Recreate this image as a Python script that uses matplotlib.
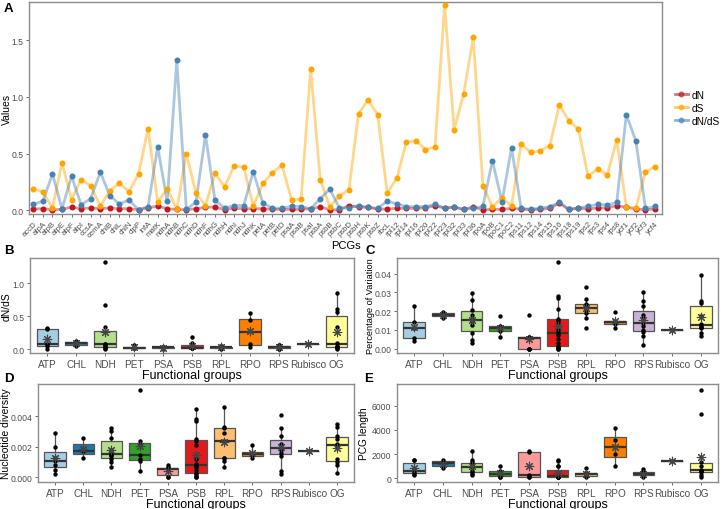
import numpy as np
import matplotlib
matplotlib.use("Agg")
import matplotlib.pyplot as plt
from matplotlib.lines import Line2D

plt.rcParams["font.family"] = ["Liberation Sans", "DejaVu Sans"]

# ---------------- data ----------------
genes = ["accD", "atpA", "atpB", "atpE", "atpF", "atpI", "ccsA", "cemA", "chlB", "chlL",
         "chlN", "clpP", "infA", "matK", "ndhA", "ndhB", "ndhC", "ndhD", "ndhF", "ndhG",
         "ndhH", "ndhI", "ndhJ", "ndhK", "petA", "petB", "petD", "psaA", "psaB", "psaI",
         "psbA", "psbB", "psbC", "psbD", "psbH", "psbK", "psbZ", "rbcL", "rpl12", "rpl14",
         "rpl16", "rpl20", "rpl22", "rpl23", "rpl32", "rpl33", "rpl36", "rpoA", "rpoB", "rpoC1",
         "rpoC2", "rps11", "rps12", "rps14", "rps15", "rps16", "rps18", "rps19", "rps2", "rps3",
         "rps4", "rps8", "ycf1", "ycf2", "ycf3", "ycf4"]

dn = [0.009, 0.012, 0.003, 0.006, 0.027, 0.012, 0.018, 0.012, 0.018, 0.012,
      0.012, 0.003, 0.020, 0.035, 0.012, 0.005, 0.003, 0.012, 0.024, 0.027,
      0.003, 0.015, 0.012, 0.012, 0.012, 0.006, 0.006, 0.006, 0.006, 0.012,
      0.027, 0.003, 0.003, 0.040, 0.027, 0.024, 0.009, 0.009, 0.015, 0.015,
      0.015, 0.020, 0.038, 0.018, 0.024, 0.006, 0.027, 0.003, 0.006, 0.006,
      0.015, 0.009, 0.003, 0.006, 0.015, 0.060, 0.006, 0.015, 0.009, 0.020,
      0.018, 0.040, 0.024, 0.009, 0.003, 0.009]

ds = [0.19, 0.16, 0.015, 0.42, 0.09, 0.27, 0.215, 0.035, 0.17, 0.24,
      0.16, 0.32, 0.72, 0.07, 0.19, 0.005, 0.50, 0.15, 0.04, 0.325,
      0.205, 0.39, 0.38, 0.035, 0.235, 0.33, 0.40, 0.09, 0.095, 1.25,
      0.27, 0.03, 0.125, 0.18, 0.85, 0.975, 0.845, 0.15, 0.28, 0.60,
      0.615, 0.535, 0.56, 1.815, 0.71, 1.03, 1.53, 0.215, 0.03, 0.11,
      0.035, 0.585, 0.51, 0.525, 0.57, 0.93, 0.79, 0.715, 0.30, 0.365,
      0.31, 0.62, 0.03, 0.02, 0.335, 0.385]

dnds = [0.053, 0.077, 0.32, 0.01, 0.30, 0.047, 0.10, 0.336, 0.127, 0.053,
        0.09, 0.003, 0.03, 0.56, 0.077, 1.325, 0.005, 0.07, 0.665, 0.085,
        0.018, 0.04, 0.04, 0.34, 0.06, 0.018, 0.015, 0.035, 0.03, 0.012,
        0.10, 0.185, 0.018, 0.018, 0.04, 0.024, 0.015, 0.077, 0.056, 0.03,
        0.03, 0.03, 0.05, 0.018, 0.027, 0.006, 0.015, 0.032, 0.437, 0.074,
        0.55, 0.015, 0.006, 0.018, 0.03, 0.068, 0.006, 0.02, 0.032, 0.05,
        0.044, 0.068, 0.844, 0.61, 0.015, 0.032]

groups = ["ATP", "CHL", "NDH", "PET", "PSA", "PSB", "RPL", "RPO", "RPS", "Rubisco", "OG"]
group_colors = ["#A6CEE3", "#1F78B4", "#B2DF8A", "#33A02C", "#FB9A99", "#E31A1C",
                "#FDBF6F", "#FF7F00", "#CAB2D6", "#6A3D9A", "#FFFF99"]
prefix_to_group = {"atp": "ATP", "chl": "CHL", "ndh": "NDH", "pet": "PET", "psa": "PSA",
                   "psb": "PSB", "rpl": "RPL", "rpo": "RPO", "rps": "RPS", "rbc": "Rubisco"}

# percentage of variation (panel C)
pov = {
    "ATP": [0.004, 0.0058, 0.0112, 0.0142, 0.0228],
    "CHL": [0.0165, 0.018, 0.0198],
    "NDH": [0.003, 0.0045, 0.0085, 0.0125, 0.015, 0.0156, 0.018, 0.0205, 0.026, 0.0295],
    "PET": [0.006, 0.0092, 0.0105, 0.011, 0.0122, 0.0175],
    "PSA": [0.0, 0.0, 0.0, 0.0057, 0.006, 0.0063, 0.018],
    "PSB": [0.0, 0.0, 0.0005, 0.001, 0.0015, 0.003, 0.005, 0.0075, 0.0085, 0.01, 0.013,
            0.0145, 0.016, 0.021, 0.027, 0.028, 0.046],
    "RPL": [0.011, 0.0165, 0.019, 0.0205, 0.0215, 0.022, 0.0237, 0.0262, 0.033],
    "RPO": [0.011, 0.013, 0.0143, 0.0148, 0.0195],
    "RPS": [0.002, 0.0065, 0.0088, 0.0102, 0.012, 0.0135, 0.0165, 0.018, 0.0225, 0.0255, 0.030],
    "Rubisco": [0.0098],
    "OG": [0.007, 0.0085, 0.011, 0.0115, 0.012, 0.013, 0.0175, 0.0245, 0.0255, 0.039],
}

# nucleotide diversity (panel D)
nuc_div = {
    "ATP": [0.0002, 0.0005, 0.0008, 0.00105, 0.0013, 0.002, 0.0029],
    "CHL": [0.0013, 0.0017, 0.0026],
    "NDH": [0.0007, 0.001, 0.0012, 0.0014, 0.00145, 0.00155, 0.0018, 0.0026, 0.003, 0.0032],
    "PET": [0.0004, 0.0011, 0.0012, 0.00145, 0.0021, 0.0024, 0.0057],
    "PSA": [0.0, 0.0, 0.0005, 0.0006, 0.00065, 0.0008],
    "PSB": [0.0, 0.0, 0.0001, 0.0002, 0.0003, 0.0005, 0.0007, 0.00075, 0.0009, 0.0012,
            0.0021, 0.0024, 0.0025, 0.0037, 0.0038, 0.0045],
    "RPL": [0.0007, 0.0011, 0.00125, 0.0013, 0.00237, 0.0029, 0.00325, 0.0033, 0.0046],
    "RPO": [0.0013, 0.00145, 0.00155, 0.0021],
    "RPS": [0.0002, 0.0004, 0.0014, 0.0016, 0.0018, 0.0019, 0.002, 0.0022, 0.0027, 0.0032, 0.0041],
    "Rubisco": [0.00172],
    "OG": [0.0003, 0.0008, 0.001, 0.0012, 0.002, 0.0022, 0.0025, 0.0027, 0.0033, 0.0035],
}

# PCG length (panel E)
pcg_len = {
    "ATP": [246, 402, 555, 744, 1497, 1524],
    "CHL": [850, 1250, 1550],
    "NDH": [300, 350, 500, 620, 900, 1000, 1150, 1350, 1500, 2250],
    "PET": [100, 150, 300, 500, 650, 1000],
    "PSA": [111, 135, 246, 2205, 2253],
    "PSB": [105, 105, 111, 117, 120, 123, 132, 186, 189, 222, 252, 1062, 1062, 1422, 1527],
    "RPL": [114, 165, 210, 280, 350, 380, 440, 470, 820],
    "RPO": [1000, 2050, 3210, 4150],
    "RPS": [150, 200, 250, 280, 300, 350, 400, 450, 550, 650, 750],
    "Rubisco": [1430],
    "OG": [100, 300, 550, 600, 640, 700, 1000, 1350, 5350, 7300],
}

# ---------------- layout helpers ----------------
W, H = 721, 510
fig = plt.figure(figsize=(W / 100, H / 100), dpi=100)

BORDER = "#8C8C8C"
TICKTXT = "#4D4D4D"


def add_ax(l, t, r, b):
    ax = fig.add_axes([l / W, 1 - b / H, (r - l) / W, (b - t) / H])
    ax._px = (l, r)
    for s in ax.spines.values():
        s.set_color(BORDER)
        s.set_linewidth(1.0)
    ax.tick_params(colors="#555555", labelcolor=TICKTXT, length=2.5, width=0.6, pad=1.5)
    return ax


def ylabel_at(ax, text, px, size):
    # px = pixel x of the label's right edge
    l, r = ax._px
    ax.set_ylabel(text, fontsize=size)
    ax.yaxis.set_label_coords((px - l) / (r - l), 0.5)


def letter(x, y, s):
    fig.text(x / W, 1 - y / H, s, fontsize=9.5, fontweight="bold", va="top", ha="left")


def group_of(g):
    return prefix_to_group.get(g[:3], "OG")


def box_panel(ax, data, yticks, ylabels, ylim):
    for i, g in enumerate(groups):
        vals = np.array(data[g], dtype=float)
        ax.boxplot(vals, positions=[i], widths=0.75, patch_artist=True, showfliers=False,
                   showcaps=False,
                   boxprops=dict(facecolor=group_colors[i], edgecolor="#555555", linewidth=0.9),
                   medianprops=dict(color="#333333", linewidth=1.6),
                   whiskerprops=dict(color="#555555", linewidth=0.9))
        ax.scatter(np.full(len(vals), i), vals, s=10, color="black", zorder=3, linewidths=0)
        ax.scatter([i], [vals.mean()], marker=(8, 2, 0), s=38, color="#444444",
                   linewidths=0.8, zorder=4)
    ax.set_xlim(-0.6, 10.6)
    ax.set_ylim(*ylim)
    ax.set_xticks(range(len(groups)))
    ax.set_xticklabels(groups, fontsize=7.2)
    ax.set_yticks(yticks)
    ax.set_yticklabels(ylabels, fontsize=6.2)
    ax.set_xlabel("Functional groups", fontsize=9, labelpad=0.5)


# ---------------- panel A ----------------
axA = add_ax(29, 3, 662, 215)
x = np.arange(len(genes))
series = [("dN", dn, "#C0171F"), ("dS", ds, "#FFA500"), ("dN/dS", dnds, "#4682B4")]
handles = []
for name, vals, col in series:
    axA.plot(x, vals, color=col, alpha=0.45, lw=2.0, zorder=2)
    axA.plot(x, vals, "o", color=col, ms=3.3, zorder=3)
    handles.append(Line2D([0], [0], color=col, lw=2, alpha=0.6, marker="o", ms=3.3,
                          markerfacecolor=col, markeredgecolor=col, label=name))
axA.set_xlim(-0.45, 65.73)
axA.set_ylim(-0.035, 1.84)
axA.set_xticks(x)
axA.set_xticklabels(genes, rotation=45, ha="right", rotation_mode="anchor", fontsize=5.6)
axA.set_yticks([0, 0.5, 1.0, 1.5])
axA.set_yticklabels(["0.0", "0.5", "1.0", "1.5"], fontsize=6.2)
axA.set_xlabel("PCGs", fontsize=8, labelpad=0.5)
ylabel_at(axA, "Values", 12, 7.5)
axA.legend(handles=handles, loc="center left", bbox_to_anchor=(1.02, 0.5), frameon=False,
           fontsize=7.3, handlelength=1.3, handletextpad=0.35, labelspacing=0.3,
           borderaxespad=0, borderpad=0)
letter(4, 3, "A")

# ---------------- panel B ----------------
dnds_by_group = {g: [] for g in groups}
for gname, v in zip(genes, dnds):
    dnds_by_group[group_of(gname)].append(v)

axB = add_ax(30, 259, 354, 354)
box_panel(axB, dnds_by_group, [0, 0.5, 1.0], ["0.0", "0.5", "1.0"], (-0.055, 1.38))
ylabel_at(axB, "dN/dS", 12, 7.5)
letter(4, 245, "B")

# ---------------- panel C ----------------
axC = add_ax(397, 259, 718, 354)
box_panel(axC, pov, [0, 0.01, 0.02, 0.03, 0.04],
          ["0.00", "0.01", "0.02", "0.03", "0.04"], (-0.0023, 0.0483))
ylabel_at(axC, "Percentage of Variation", 375, 6.6)
letter(366, 245, "C")

# ---------------- panel D ----------------
axD = add_ax(38, 385, 354, 483)
box_panel(axD, nuc_div, [0, 0.002, 0.004],
          ["0.000", "0.002", "0.004"], (-0.0003, 0.0061))
ylabel_at(axD, "Nucleotide diversity", 11, 7.5)
letter(4, 373, "D")

# ---------------- panel E ----------------
axE = add_ax(397, 385, 718, 483)
box_panel(axE, pcg_len, [0, 2000, 4000, 6000],
          ["0", "2000", "4000", "6000"], (-300, 7800))
ylabel_at(axE, "PCG length", 369, 7.3)
letter(364, 373, "E")

fig.savefig("out.png", dpi=100)
